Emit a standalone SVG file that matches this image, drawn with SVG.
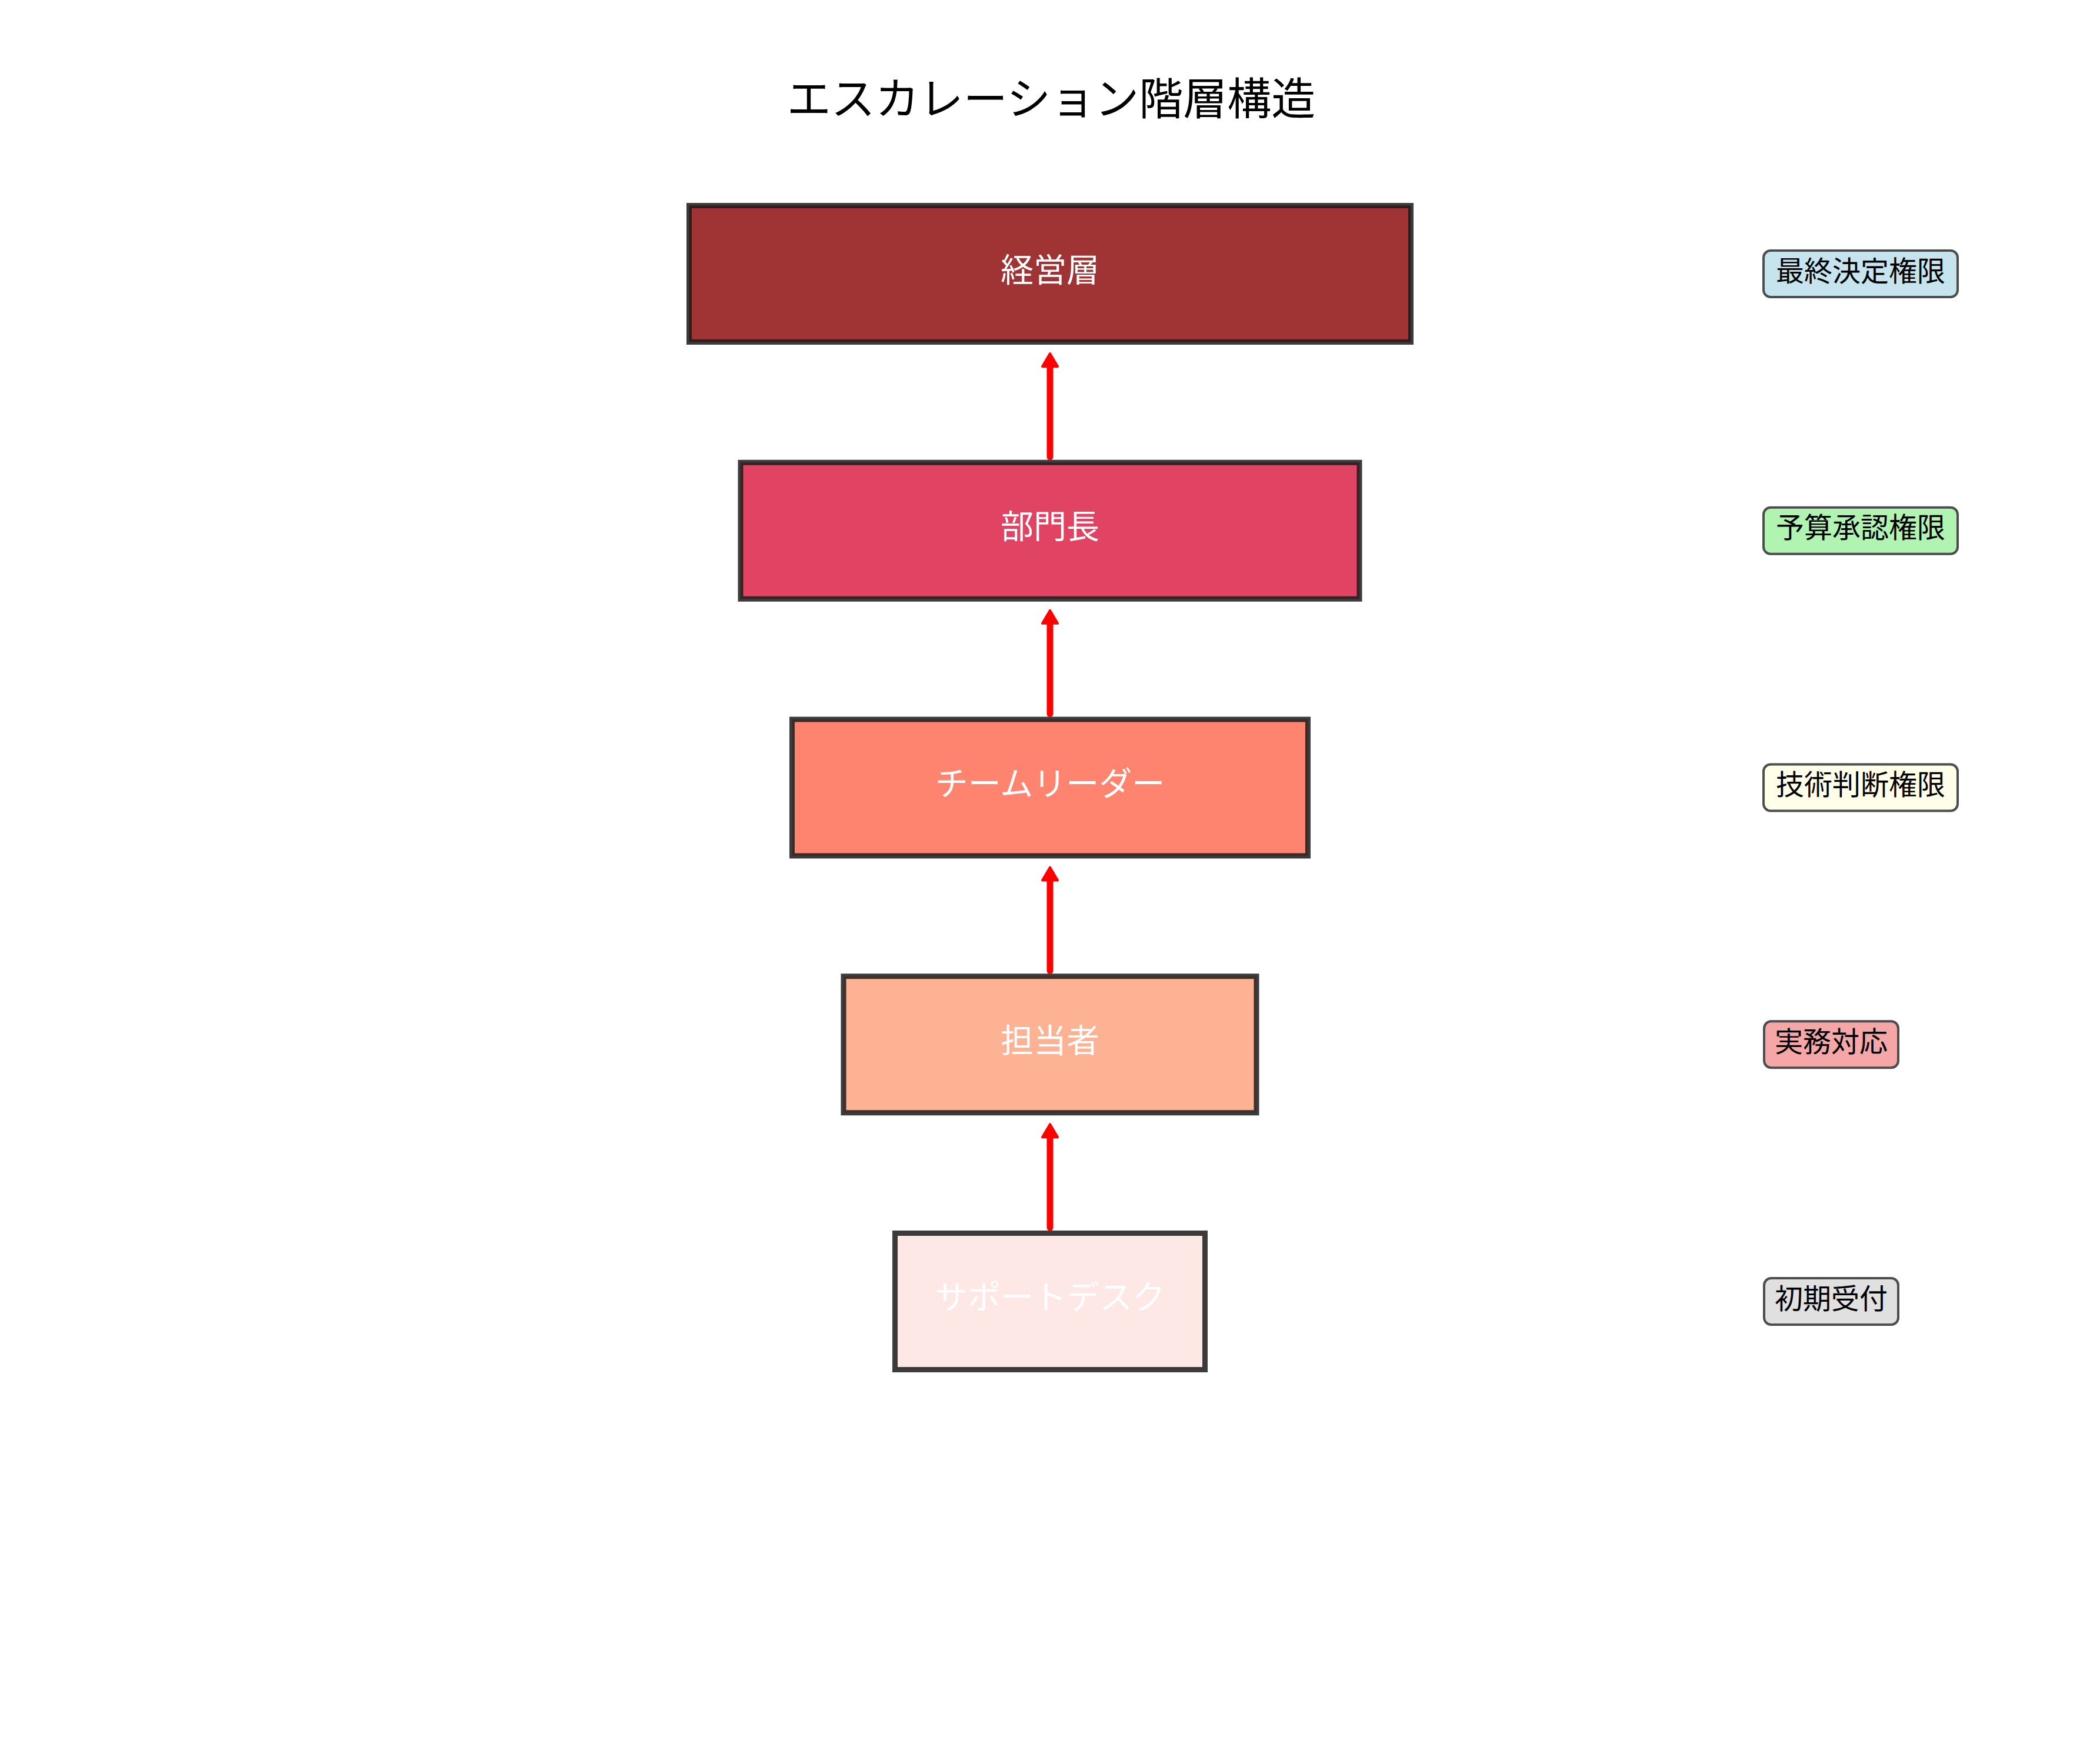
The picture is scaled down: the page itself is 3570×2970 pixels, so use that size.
<svg xmlns="http://www.w3.org/2000/svg" width="3570" height="2970" viewBox="0 0 3570 2970">
<style>
.title{font-family:"Noto Sans CJK JP","Noto Sans",sans-serif;font-size:75px;fill:#000;text-anchor:middle}
.node rect{stroke:#1a1a1a;stroke-opacity:0.85;stroke-width:9}
.node text{font-family:"Noto Sans CJK JP","Noto Sans",sans-serif;font-size:56px;fill:#fff;text-anchor:middle}
.lab rect{stroke:#4d4d4d;stroke-width:4}
.lab text{font-family:"Noto Sans CJK JP","Noto Sans",sans-serif;font-size:48px;fill:#000;text-anchor:middle}
.conn path{stroke:#ff0000;stroke-width:11;fill:none;stroke-linecap:round}
</style>
<defs>
<marker id="ah" markerUnits="userSpaceOnUse" viewBox="-3 -19 33 38" markerWidth="33" markerHeight="38" refX="10" refY="0" orient="auto">
<path d="M2,-13 L24,0 L2,13 Z" fill="#ff0000" stroke="#ff0000" stroke-width="4" stroke-linejoin="round"/>
</marker>
</defs>
<rect width="3570" height="2970" fill="#fff"/>
<text class="title" x="1787" y="195">エスカレーション階層構造</text>
<g id="n1" class="node"><rect x="1171.5" y="349.5" width="1227" height="232" fill="#A03333"/><text x="1785" y="479">経営層</text></g>
<g id="n2" class="node"><rect x="1259" y="786.25" width="1052" height="232" fill="#E14462"/><text x="1785" y="915">部門長</text></g>
<g id="n3" class="node"><rect x="1346.5" y="1223" width="877" height="232" fill="#FF846F"/><text x="1785" y="1352">チームリーダー</text></g>
<g id="n4" class="node"><rect x="1434" y="1659.75" width="702" height="232" fill="#FEB294"/><text x="1785" y="1789">担当者</text></g>
<g id="n5" class="node"><rect x="1521.5" y="2096.5" width="527" height="232" fill="#FDE8E6"/><text x="1785" y="2225">サポートデスク</text></g>
<g id="connectors" class="conn">
<path d="M1785,776.75 V615" marker-end="url(#ah)"/>
<path d="M1785,1213.5 V1051.75" marker-end="url(#ah)"/>
<path d="M1785,1650.25 V1488.5" marker-end="url(#ah)"/>
<path d="M1785,2087 V1925.25" marker-end="url(#ah)"/>
</g>
<g id="l1" class="lab"><rect x="2998" y="426" width="330" height="79" rx="12" fill="#C6E4EE"/><text x="3163" y="478">最終決定権限</text></g>
<g id="l2" class="lab"><rect x="2998" y="862.75" width="330" height="79" rx="12" fill="#B1F3B1"/><text x="3163" y="914.25">予算承認権限</text></g>
<g id="l3" class="lab"><rect x="2998" y="1299.5" width="330" height="79" rx="12" fill="#FFFFE9"/><text x="3163" y="1351">技術判断権限</text></g>
<g id="l4" class="lab"><rect x="2999" y="1736.25" width="228" height="79" rx="12" fill="#F5A6A6"/><text x="3113" y="1787.75">実務対応</text></g>
<g id="l5" class="lab"><rect x="2999" y="2173" width="228" height="79" rx="12" fill="#E0E0E0"/><text x="3113" y="2224.5">初期受付</text></g>
</svg>
